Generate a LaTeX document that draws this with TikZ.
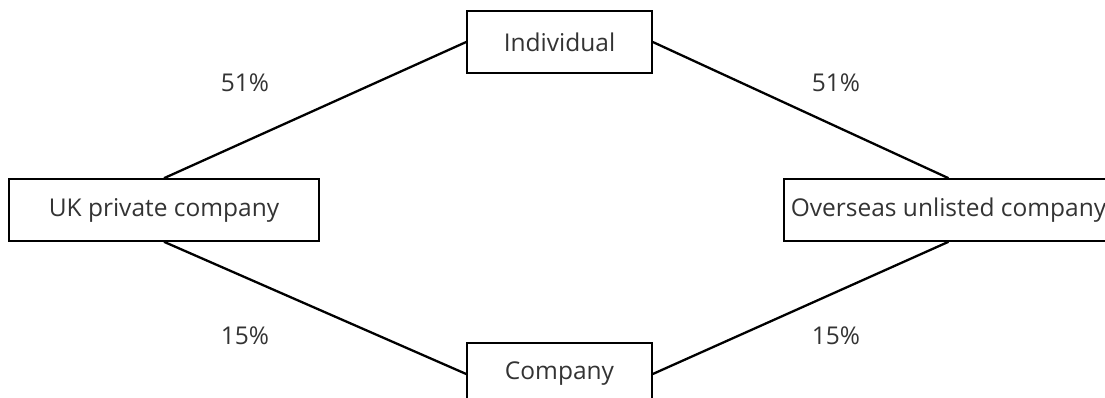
\documentclass[tikz,border=0pt]{standalone}
\usepackage{fontspec}
\setmainfont{Open Sans}
\usepackage{xcolor}
\usepackage{tikz}
\definecolor{txtgrey}{HTML}{333333}

\begin{document}
\begin{tikzpicture}[x=1pt, y=-1pt, party/.style={draw, line width=1.6pt, minimum height=62pt, inner sep=0pt, text=txtgrey, font=\fontsize{24.5}{29}\selectfont}, share/.style={text=txtgrey, inner sep=0pt, font=\fontsize{24.5}{29}\selectfont}, link/.style={line width=2.3pt}]
  \useasboundingbox (0,0) rectangle (1105,398);
  \node[party, minimum width=310pt](uk) at (164,210){UK private company};
  \node[party, minimum width=329pt](ovs) at (948.5,210){Overseas unlisted company};
  \node[party, minimum width=185pt](ind) at (559.5,42){Individual};
  \node[party, minimum width=185pt](co) at (559.5,374){Company};
  \draw[link] (uk.north) -- (ind.west);
  \draw[link] (ind.east) -- (ovs.north);
  \draw[link] (uk.south) -- (co.west);
  \draw[link] (co.east) -- (ovs.south);
  \node[share](p1) at (245,83){51\%};
  \node[share](p2) at (836,83){51\%};
  \node[share](p3) at (245,336){15\%};
  \node[share](p4) at (836,336){15\%};
\end{tikzpicture}
\end{document}
